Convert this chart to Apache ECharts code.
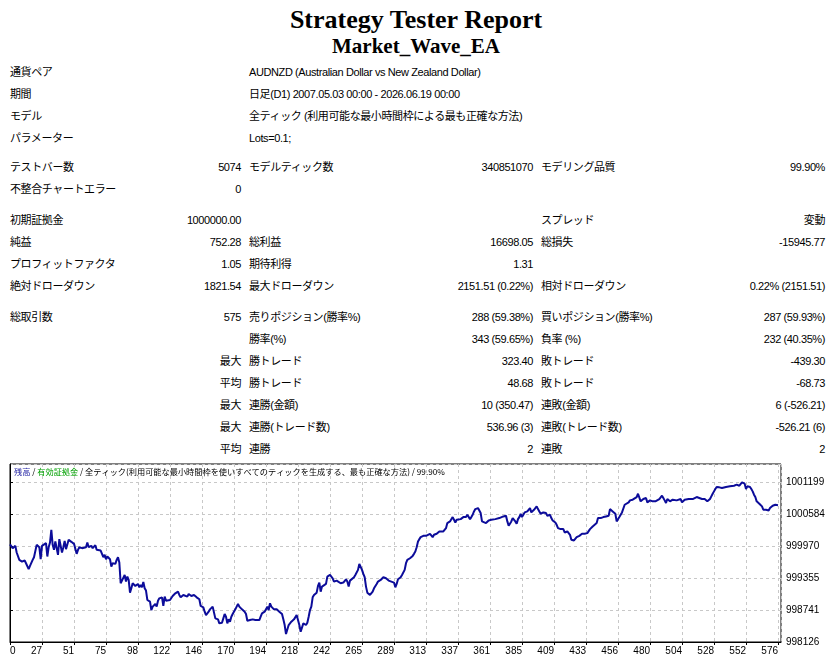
<!DOCTYPE html>
<html>
<head>
<meta charset="utf-8">
<title>Strategy Tester Report</title>
<script src="https://cdn.jsdelivr.net/npm/echarts@6/dist/echarts.min.js"></script>
<style>
  html, body { margin: 0; padding: 0; background: #fff; }
  body { width: 832px; height: 664px; position: relative; overflow: hidden;
         font-family: "Liberation Sans", "Noto Sans CJK JP", sans-serif; font-size: 11px; color: #000; }
  .h1 { position: absolute; left: 0; width: 832px; text-align: center;
        font-family: "Liberation Serif", serif; font-weight: bold; white-space: nowrap; }
  .c { position: absolute; height: 14px; line-height: 14px; white-space: nowrap; letter-spacing: -0.4px; }
  #chart { position: absolute; left: 0; top: 455px; width: 832px; height: 209px; }
</style>
</head>
<body>
<div class="h1" style="top:7px;font-size:26px;line-height:26px;">Strategy Tester Report</div>
<div class="h1" style="top:36px;font-size:21px;line-height:21px;">Market_Wave_EA</div>
<div id="report"></div>
<div id="chart"></div>
<script>
// x ticks every 24 position units, labels as printed by the tester
const xTickLabels = ['0', '27', '51', '75', '98', '122', '146', '170', '194', '218', '242', '265',
  '289', '313', '337', '361', '385', '409', '433', '456', '480', '504', '528', '552', '576'];
const yTickLabels = ['998126', '998741', '999355', '999970', '1000584', '1001199'];
const yMin = 998126;
const yStep = 614.6;

const tradeIndex = [
  0, 2, 4, 5, 7, 9, 11, 12, 14, 15, 17, 18, 20, 22, 23, 24, 25, 27, 28, 29,
  30, 31, 32, 33, 34, 35, 36, 37, 38, 39, 40, 41, 42, 43, 44, 46, 47, 48, 50, 51,
  52, 54, 55, 57, 58, 59, 61, 62, 64, 65, 66, 68, 69, 70, 71, 72, 73, 74, 75, 76,
  77, 79, 80, 81, 82, 83, 84, 86, 87, 88, 89, 90, 91, 92, 93, 94, 96, 97, 98, 99,
  100, 101, 102, 103, 104, 105, 106, 107, 109, 110, 111, 112, 114, 115, 116, 117, 118, 120, 122, 123,
  124, 126, 127, 128, 130, 131, 133, 134, 136, 137, 138, 140, 141, 142, 143, 145, 146, 147, 149, 150,
  152, 153, 154, 155, 156, 157, 159, 160, 161, 162, 163, 164, 165, 166, 167, 169, 170, 171, 172, 173,
  174, 176, 177, 178, 179, 180, 182, 184, 185, 187, 188, 189, 191, 192, 193, 194, 195, 196, 198, 199,
  200, 202, 203, 204, 205, 206, 207, 208, 209, 210, 211, 213, 214, 215, 216, 217, 218, 219, 220, 221,
  222, 223, 224, 225, 226, 227, 228, 229, 230, 231, 232, 233, 234, 235, 237, 238, 240, 241, 242, 243,
  244, 245, 246, 248, 249, 250, 252, 253, 254, 255, 256, 258, 259, 260, 261, 262, 263, 264, 265, 266,
  267, 268, 270, 271, 272, 273, 274, 275, 276, 278, 279, 280, 281, 282, 283, 284, 286, 287, 288, 289,
  290, 291, 293, 294, 295, 296, 297, 298, 300, 301, 302, 303, 304, 305, 306, 307, 308, 310, 311, 312,
  313, 315, 316, 317, 318, 320, 321, 322, 323, 325, 326, 327, 328, 329, 330, 331, 332, 333, 334, 335,
  336, 338, 339, 340, 341, 342, 343, 344, 345, 346, 347, 348, 349, 351, 352, 353, 354, 355, 357, 358,
  359, 361, 362, 364, 365, 367, 368, 370, 371, 372, 373, 374, 375, 376, 377, 378, 379, 380, 381, 382,
  383, 384, 385, 386, 388, 389, 390, 391, 392, 393, 394, 395, 396, 397, 398, 400, 401, 402, 403, 405,
  406, 407, 408, 409, 410, 411, 413, 414, 415, 416, 418, 419, 420, 421, 422, 423, 424, 425, 427, 428,
  429, 430, 431, 433, 434, 435, 437, 438, 440, 441, 442, 443, 445, 446, 447, 449, 450, 451, 452, 453,
  454, 455, 456, 457, 458, 459, 460, 461, 462, 464, 465, 467, 468, 470, 471, 472, 473, 475, 476, 477,
  478, 479, 480, 481, 482, 484, 485, 487, 488, 489, 490, 491, 492, 493, 494, 495, 497, 498, 500, 501,
  503, 504, 505, 506, 507, 509, 510, 512, 513, 515, 516, 517, 518, 519, 520, 521, 522, 523, 525, 526,
  527, 528, 529, 530, 531, 532, 534, 535, 537, 538, 540, 541, 543, 544, 545, 547, 548, 549, 550, 551,
  552, 553, 554, 555, 556, 557, 558, 559, 560, 561, 562, 563, 564, 565, 566, 567, 569, 570, 571, 572,
  574, 575, 576
];

const balance = [
  1000000, 999928, 999973, 999845, 999703, 999671, 999691, 999639, 999524, 999588, 999703, 999755, 999992, 999947, 999716, 999973, 999947, 1000024, 999768, 999947,
  1000037, 1000281, 999992, 999896, 1000056, 1000024, 999800, 1000101, 1000088, 999845, 999947, 1000069, 999909, 999883, 1000088, 1000050, 1000056, 1000011, 999819, 999896,
  999947, 999928, 999960, 999947, 1000037, 999947, 999973, 999928, 999986, 999896, 999909, 999883, 999909, 999755, 999800, 999716, 999768, 999800, 999716, 999575,
  999639, 999626, 999703, 999755, 999652, 999254, 999305, 999414, 999286, 999382, 999318, 999074, 999158, 999254, 999222, 999203, 999241, 999177, 999222, 999177,
  999280, 999158, 999113, 998933, 998946, 998901, 998740, 998805, 998856, 998805, 998920, 998965, 998984, 998818, 998997, 998920, 998933, 998933, 999010, 999010,
  999061, 999093, 999029, 998984, 999029, 999049, 998997, 999049, 999010, 998997, 999029, 998984, 998997, 998946, 998818, 998792, 998708, 998644, 998708, 998753,
  998805, 998773, 998580, 998548, 998561, 998484, 998497, 998580, 998663, 998612, 998484, 998561, 998516, 998612, 998663, 998753, 998805, 998856, 998805, 998837,
  998753, 998708, 998663, 998535, 998497, 998548, 998561, 998548, 998561, 998548, 998612, 998676, 998708, 998753, 998805, 998740, 998869, 998805, 998753, 998773,
  998753, 998708, 998727, 998663, 998561, 998452, 998278, 998291, 998452, 998471, 998516, 998561, 998599, 998644, 998612, 998452, 998323, 998355, 998484, 998516,
  998452, 998497, 998612, 998740, 998805, 998984, 999029, 999049, 999074, 999203, 999267, 999093, 999190, 999222, 999241, 999382, 999414, 999447, 999350, 999286,
  999318, 999305, 999286, 999254, 999241, 999267, 999331, 999286, 999190, 999305, 999305, 999370, 999414, 999447, 999511, 999626, 999588, 999511, 999434, 999370,
  999190, 999074, 999029, 999061, 999093, 999158, 999190, 999241, 999286, 999318, 999331, 999370, 999382, 999350, 999370, 999305, 999286, 999305, 999267, 999177,
  999241, 999331, 999370, 999414, 999434, 999511, 999639, 999703, 999735, 999768, 999780, 999819, 999864, 999947, 1000056, 1000101, 1000140, 1000165, 1000178, 1000165,
  1000178, 1000204, 1000185, 1000140, 1000185, 1000204, 1000217, 1000249, 1000268, 1000249, 1000268, 1000313, 1000410, 1000422, 1000442, 1000461, 1000525, 1000474, 1000422, 1000474,
  1000506, 1000486, 1000506, 1000525, 1000538, 1000525, 1000570, 1000589, 1000486, 1000525, 1000570, 1000634, 1000679, 1000698, 1000679, 1000602, 1000442, 1000422, 1000410, 1000442,
  1000461, 1000474, 1000486, 1000486, 1000486, 1000506, 1000525, 1000538, 1000525, 1000551, 1000442, 1000358, 1000377, 1000442, 1000506, 1000525, 1000442, 1000397, 1000486, 1000525,
  1000589, 1000525, 1000570, 1000615, 1000634, 1000666, 1000698, 1000615, 1000634, 1000666, 1000698, 1000730, 1000679, 1000634, 1000589, 1000615, 1000589, 1000602, 1000551, 1000570,
  1000506, 1000461, 1000442, 1000422, 1000377, 1000313, 1000294, 1000307, 1000294, 1000230, 1000249, 1000281, 1000185, 1000088, 1000101, 1000076, 1000101, 1000140, 1000165, 1000185,
  1000204, 1000185, 1000204, 1000217, 1000249, 1000294, 1000345, 1000332, 1000410, 1000506, 1000538, 1000506, 1000525, 1000506, 1000538, 1000551, 1000679, 1000653, 1000634, 1000615,
  1000589, 1000442, 1000474, 1000525, 1000551, 1000615, 1000634, 1000762, 1000795, 1000807, 1000846, 1000859, 1000891, 1000910, 1000974, 1000936, 1000827, 1000872, 1000846, 1000891,
  1000807, 1000795, 1000846, 1000827, 1000827, 1000827, 1000846, 1000872, 1000910, 1000936, 1000891, 1000846, 1000795, 1000872, 1000846, 1000827, 1000859, 1000827, 1000846, 1000859,
  1000872, 1000807, 1000827, 1000859, 1000846, 1000872, 1000891, 1000872, 1000891, 1000910, 1000936, 1000891, 1000910, 1000872, 1000910, 1000872, 1000846, 1000827, 1000872, 1000923,
  1000974, 1001019, 1001064, 1001103, 1001083, 1001096, 1001083, 1001083, 1001103, 1001128, 1001116, 1001148, 1001128, 1001116, 1001148, 1001128, 1001103, 1001193, 1001212, 1001167,
  1001064, 1001116, 1001128, 1001103, 1001064, 1001019, 1000955, 1000910, 1000827, 1000795, 1000782, 1000795, 1000730, 1000666, 1000666, 1000666, 1000653, 1000698, 1000730, 1000743,
  1000762, 1000743, 1000752.28
];

// report table: [centre y, label, value, label, value, label, value]
const rows = [
  [72, '通貨ペア', '', 'AUDNZD (Australian Dollar vs New Zealand Dollar)'],
  [94, '期間', '', '日足(D1) 2007.05.03 00:00 - 2026.06.19 00:00'],
  [116, 'モデル', '', '全ティック (利用可能な最小時間枠による最も正確な方法)'],
  [138, 'パラメーター', '', 'Lots=0.1;'],
  [167, 'テストバー数', '5074', 'モデルティック数', '340851070', 'モデリング品質', '99.90%'],
  [189, '不整合チャートエラー', '0'],
  [220, '初期証拠金', '1000000.00', '', '', 'スプレッド', '変動'],
  [242, '純益', '752.28', '総利益', '16698.05', '総損失', '-15945.77'],
  [264, 'プロフィットファクタ', '1.05', '期待利得', '1.31'],
  [286, '絶対ドローダウン', '1821.54', '最大ドローダウン', '2151.51 (0.22%)', '相対ドローダウン', '0.22% (2151.51)'],
  [317, '総取引数', '575', '売りポジション(勝率%)', '288 (59.38%)', '買いポジション(勝率%)', '287 (59.93%)'],
  [339, '', '', '勝率(%)', '343 (59.65%)', '負率 (%)', '232 (40.35%)'],
  [361, '', '最大', '勝トレード', '323.40', '敗トレード', '-439.30'],
  [383, '', '平均', '勝トレード', '48.68', '敗トレード', '-68.73'],
  [405, '', '最大', '連勝(金額)', '10 (350.47)', '連敗(金額)', '6 (-526.21)'],
  [427, '', '最大', '連勝(トレード数)', '536.96 (3)', '連敗(トレード数)', '-526.21 (6)'],
  [449, '', '平均', '連勝', '2', '連敗', '2']
];

const cols = [
  { left: 10 }, { right: 591 }, { left: 249 }, { right: 299 }, { left: 541 }, { right: 7 }
];

const report = document.getElementById('report');
rows.forEach(r => {
  for (let i = 1; i < r.length; i++) {
    if (!r[i]) continue;
    const d = document.createElement('div');
    d.className = 'c';
    d.style.top = (r[0] - 7) + 'px';
    const col = cols[i - 1];
    if (col.left != null) d.style.left = col.left + 'px';
    else d.style.right = col.right + 'px';
    d.textContent = r[i];
    report.appendChild(d);
  }
});

const chart = echarts.init(document.getElementById('chart'));
chart.setOption({
  animation: false,
  title: {
    left: 14,
    top: 12,
    padding: 0,
    text: '{a|残高} / {b|有効証拠金} / 全ティック(利用可能な最小時間枠を使いすべてのティックを生成する、最も正確な方法) / 99.90%',
    textStyle: {
      fontSize: 8.2,
      lineHeight: 10,
      fontWeight: 'normal',
      fontFamily: 'Noto Sans CJK JP',
      color: '#000',
      rich: {
        a: { color: '#1a1aa0', fontSize: 8.2, fontFamily: 'Noto Sans CJK JP' },
        b: { color: '#00a000', fontSize: 8.2, fontFamily: 'Noto Sans CJK JP' }
      }
    }
  },
  grid: {
    left: 10, right: 51, top: 9, bottom: 22,
    show: true, borderColor: '#000', borderWidth: 1, backgroundColor: '#fff',
    outerBoundsMode: 'none'
  },
  xAxis: {
    type: 'value',
    min: 0,
    max: 578.25,
    interval: 24,
    axisLine: { show: true, lineStyle: { color: '#000' } },
    axisTick: { show: true, length: 3, lineStyle: { color: '#000' } },
    splitLine: { show: true, lineStyle: { color: '#c8c8c8', type: [3, 3] } },
    axisLabel: {
      color: '#000', fontSize: 10, fontFamily: 'Liberation Sans', margin: 4,
      align: 'right', alignMinLabel: 'left', showMaxLabel: false,
      formatter: v => {
        const i = Math.round(v / 24);
        return Math.abs(v - i * 24) < 0.01 && xTickLabels[i] !== undefined ? xTickLabels[i] : '';
      }
    }
  },
  yAxis: {
    type: 'value',
    position: 'right',
    min: yMin,
    max: yMin + yStep * 5.5625,
    interval: yStep,
    axisLine: { show: true, lineStyle: { color: '#000' } },
    axisTick: { show: true, length: 3, lineStyle: { color: '#000' } },
    splitLine: { show: true, lineStyle: { color: '#c8c8c8', type: [3, 3] } },
    axisLabel: {
      color: '#000', fontSize: 10, fontFamily: 'Liberation Sans', margin: 5,
      showMaxLabel: false,
      formatter: v => {
        const i = Math.round((v - yMin) / yStep);
        return Math.abs(v - (yMin + i * yStep)) < 0.5 && yTickLabels[i] !== undefined ? yTickLabels[i] : '';
      }
    }
  },
  series: [{
    type: 'line',
    data: tradeIndex.map((x, i) => [x, balance[i]]),
    showSymbol: false,
    lineStyle: { color: '#0c0c9a', width: 2 },
    itemStyle: { color: '#0c0c9a' }
  }]
});
</script>
</body>
</html>
